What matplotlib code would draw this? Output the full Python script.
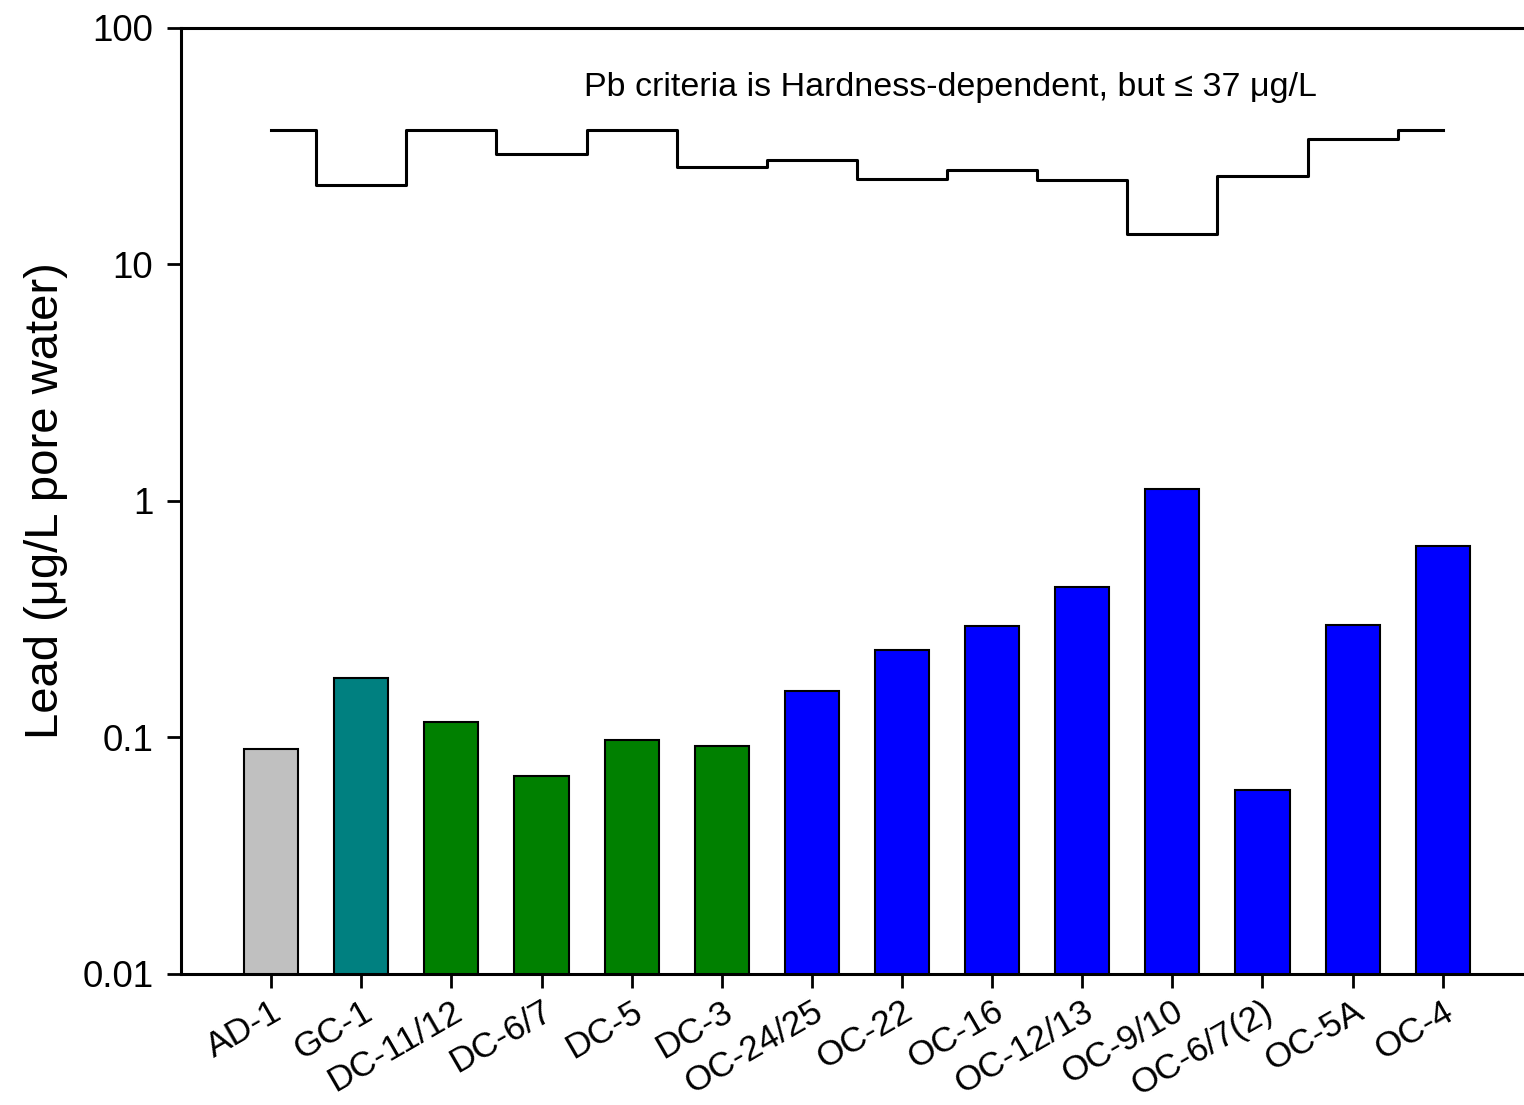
import numpy as np
import matplotlib
matplotlib.use("Agg")
import matplotlib.pyplot as plt

plt.rcParams['font.family'] = ['Liberation Sans', 'DejaVu Sans']

# sites along the creek
sites = ['AD-1', 'GC-1', 'DC-11/12', 'DC-6/7', 'DC-5', 'DC-3', 'OC-24/25',
         'OC-22', 'OC-16', 'OC-12/13', 'OC-9/10', 'OC-6/7(2)', 'OC-5A', 'OC-4']
lead = [0.089, 0.179, 0.116, 0.069, 0.098, 0.092, 0.157,
        0.234, 0.296, 0.433, 1.12, 0.060, 0.299, 0.645]
criteria = [37, 21.7, 37, 29.3, 37, 25.8, 27.7,
            23.0, 25.1, 22.8, 13.5, 23.7, 33.9, 37]
colors = ['#C0C0C0', '#008080', '#008000', '#008000', '#008000', '#008000',
          '#0000FF', '#0000FF', '#0000FF', '#0000FF', '#0000FF', '#0000FF',
          '#0000FF', '#0000FF']

fig = plt.figure(figsize=(15.24, 11.05), dpi=100)
ax = fig.add_axes([0.1188, 0.1186, 0.8805, 0.8561])

x = np.arange(len(sites))
ax.bar(x, lead, width=0.6, color=colors, edgecolor='black', linewidth=1.5, zorder=2)
ax.step(x, criteria, where='mid', color='black', linewidth=2.2, zorder=3)

ax.set_yscale('log')
ax.set_ylim(0.01, 100)
ax.set_xlim(-1.0, 13.89)
ax.set_yticks([0.01, 0.1, 1, 10, 100])
ax.set_yticklabels(['0.01', '0.1', '1', '10', '100'])
ax.minorticks_off()
ax.set_xticks(x)
ax.set_xticklabels(sites, rotation=30, ha='right', rotation_mode='anchor')

ax.tick_params(axis='both', direction='out', length=10, width=2)
ax.tick_params(axis='y', pad=10, labelsize=26.5)
ax.tick_params(axis='x', pad=5, labelsize=25.5)

for s in ['left', 'bottom', 'top']:
    ax.spines[s].set_linewidth(2.2)
ax.spines['right'].set_visible(False)

ax.set_ylabel('Lead (\u03bcg/L pore water)', fontsize=34, labelpad=10)

ax.text(7.54, 56, 'Pb criteria is Hardness-dependent, but \u2264 37 \u03bcg/L',
        ha='center', va='center', fontsize=24.5)

plt.savefig('out.png', dpi=100)
